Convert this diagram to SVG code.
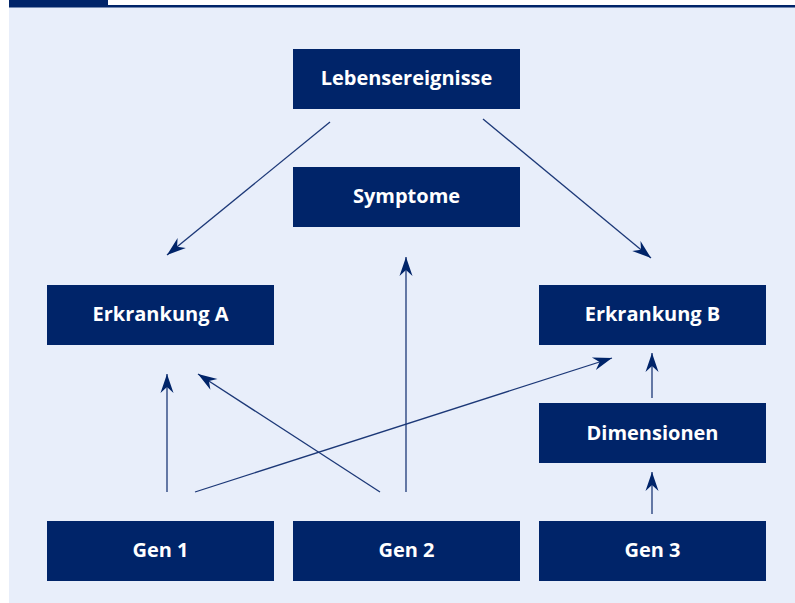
<svg xmlns="http://www.w3.org/2000/svg" width="795" height="603" viewBox="0 0 795 603">
<defs>
<style>
.box{fill:#002469;}
.lbl{fill:#ffffff;font-family:"Open Sans","Liberation Sans",sans-serif;font-weight:700;font-size:20px;text-anchor:middle;dominant-baseline:central;}
.con{stroke:#1c3877;stroke-width:1.3;fill:none;marker-end:url(#ah);}
</style>
<marker id="ah" markerUnits="userSpaceOnUse" markerWidth="24" markerHeight="16" viewBox="-20 -8 22 16" refX="0" refY="0" orient="auto">
<path d="M0,0 L-19,-6.5 L-13,0 L-19,6.5 Z" fill="#002469"/>
</marker>
</defs>
<rect x="0" y="0" width="795" height="603" fill="#ffffff"/>
<rect x="9" y="7" width="786" height="596" fill="#e8eefa"/>
<rect x="9" y="0" width="99" height="6" fill="#002469"/>
<rect x="9" y="5" width="786" height="2.5" fill="#002469"/>
<g id="connectors">
<line class="con" x1="330" y1="122" x2="167" y2="255"/>
<line class="con" x1="483" y1="119" x2="651" y2="258"/>
<line class="con" x1="406" y1="492" x2="406" y2="257"/>
<line class="con" x1="167" y1="492" x2="167" y2="374"/>
<line class="con" x1="380" y1="492" x2="198" y2="374"/>
<line class="con" x1="195" y1="492" x2="612" y2="358"/>
<line class="con" x1="652" y1="398" x2="652" y2="353"/>
<line class="con" x1="652" y1="514" x2="652" y2="472"/>
</g>
<g id="lebensereignisse"><rect class="box" x="293" y="49" width="227" height="60"/><text class="lbl" x="406.5" y="77">Lebensereignisse</text></g>
<g id="symptome"><rect class="box" x="293" y="167" width="227" height="60"/><text class="lbl" x="406.5" y="195">Symptome</text></g>
<g id="erkrankungA"><rect class="box" x="47" y="285" width="227" height="60"/><text class="lbl" x="160.5" y="313">Erkrankung A</text></g>
<g id="erkrankungB"><rect class="box" x="539" y="285" width="227" height="60"/><text class="lbl" x="652.5" y="313">Erkrankung B</text></g>
<g id="dimensionen"><rect class="box" x="539" y="403" width="227" height="60"/><text class="lbl" x="652.5" y="432">Dimensionen</text></g>
<g id="gen1"><rect class="box" x="47" y="521" width="227" height="60"/><text class="lbl" x="160.5" y="549">Gen 1</text></g>
<g id="gen2"><rect class="box" x="293" y="521" width="227" height="60"/><text class="lbl" x="406.5" y="549">Gen 2</text></g>
<g id="gen3"><rect class="box" x="539" y="521" width="227" height="60"/><text class="lbl" x="652.5" y="549">Gen 3</text></g>
</svg>
